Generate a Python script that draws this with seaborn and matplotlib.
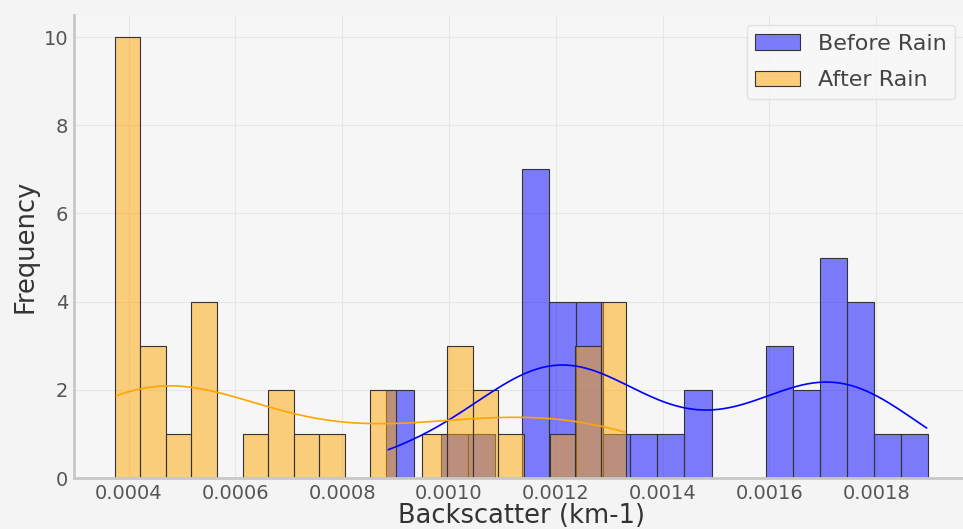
import numpy as np
import matplotlib
matplotlib.use('Agg')
import matplotlib.pyplot as plt
import seaborn as sns

# Histogram counts (20 bins each)
before_counts = [2, 0, 1, 1, 0, 7, 4, 4, 1, 1, 1, 2, 0, 0, 3, 2, 5, 4, 1, 1]
after_counts = [10, 3, 1, 4, 0, 1, 2, 1, 1, 0, 2, 0, 1, 3, 2, 1, 0, 1, 3, 4]
before_range = (0.000883, 0.0018976)
after_range = (0.000374, 0.001332)
xticks = [0.0004, 0.0006, 0.0008, 0.0010, 0.0012, 0.0014, 0.0016, 0.0018]
yticks = [0, 2, 4, 6, 8, 10]

def centers(rng, n):
    edges = np.linspace(rng[0], rng[1], n + 1)
    return (edges[:-1] + edges[1:]) / 2

before_x = centers(before_range, len(before_counts))
after_x = centers(after_range, len(after_counts))

sns.set_style('whitegrid')
plt.rcParams['font.family'] = ['DejaVu Sans']

fig = plt.figure(figsize=(9.63, 5.29), dpi=100, facecolor='#f4f4f4')
ax = fig.add_axes([74 / 963, 51 / 529, 895 / 963, 463 / 529])
ax.set_facecolor('#f6f6f6')

# weighted bin centres give a wider bandwidth than the raw data, so tighten it
kde_opts = {'cut': 0.18, 'bw_adjust': 0.75}

sns.histplot(x=before_x, weights=before_counts, bins=len(before_counts), binrange=before_range,
             color='blue', alpha=0.5, edgecolor='#333333', linewidth=0.8,
             kde=True, kde_kws=kde_opts, line_kws={'linewidth': 1.2},
             label='Before Rain', ax=ax)
sns.histplot(x=after_x, weights=after_counts, bins=len(after_counts), binrange=after_range,
             color='orange', alpha=0.5, edgecolor='#333333', linewidth=0.8,
             kde=True, kde_kws=kde_opts, line_kws={'linewidth': 1.2},
             label='After Rain', ax=ax)

# default 5% margins around the bars (the kde tails would otherwise widen it)
lo = min(before_range[0], after_range[0])
hi = max(before_range[1], after_range[1])
pad = 0.05 * (hi - lo)
ax.set_xlim(lo - pad, hi + pad)

ax.set_xticks(xticks)
ax.set_xticklabels(['{:.4f}'.format(v) for v in xticks])
ax.set_yticks(yticks)
ax.tick_params(axis='both', labelsize=14, colors='#555555', length=3, color='#bbbbbb', pad=1)
ax.set_xlabel('Backscatter (km-1)', fontsize=18.5, color='#333333', labelpad=0)
ax.set_ylabel('Frequency', fontsize=18.5, color='#333333', labelpad=4)
ax.grid(True, color='#e6e6e6', linewidth=0.8)
for s in ['top', 'right']:
    ax.spines[s].set_visible(False)
for s in ['left', 'bottom']:
    ax.spines[s].set_color('#c8c8c8')
    ax.spines[s].set_linewidth(2)

leg = ax.legend(loc='upper right', fontsize=16, frameon=True, borderaxespad=0,
                bbox_to_anchor=(0.992, 0.953), bbox_transform=fig.transFigure,
                labelspacing=0.75)
leg.get_frame().set_edgecolor('#dddddd')
leg.get_frame().set_facecolor('#f8f8f8')
for t in leg.get_texts():
    t.set_color('#444444')

fig.savefig('out.png', dpi=100, facecolor=fig.get_facecolor())
